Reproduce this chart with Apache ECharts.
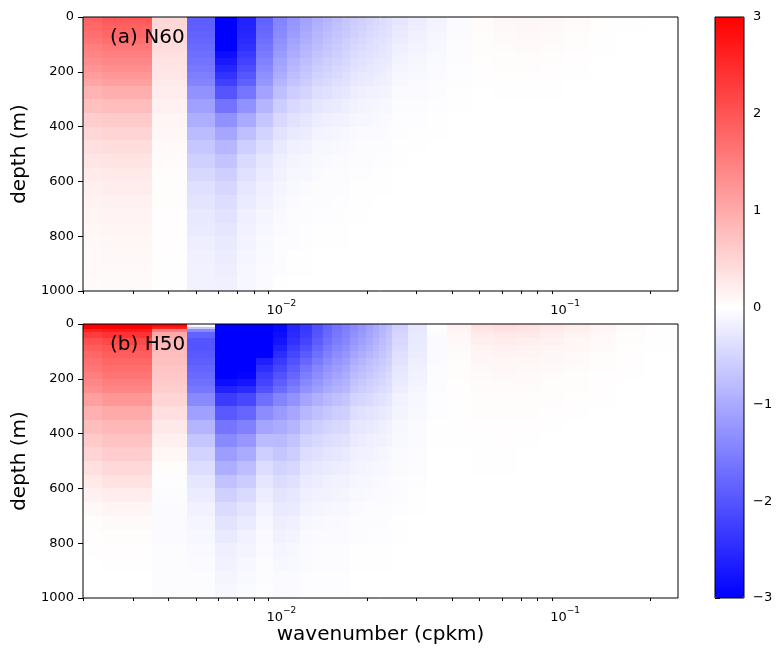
<!DOCTYPE html>
<html>
<head>
<meta charset="utf-8">
<title>N60 / H50 wavenumber-depth</title>
<script src="https://cdn.jsdelivr.net/npm/echarts@6/dist/echarts.min.js"></script>
<style>
  html, body { margin: 0; padding: 0; background: #fff; }
  #chart { width: 776px; height: 651px; }
</style>
</head>
<body>
<div id="chart"></div>
<script>
// wavenumber bins: edges in multiples of the grid spacing dk (cpkm)
const dk = 0.001165;
const binEdges = [1.717, 2, 3, 4, 5, 6, 7, 8, 9, 10, 11, 12, 13, 14, 15, 16, 17, 18, 19, 20, 21,
  24, 28, 33, 40, 48, 58, 70, 85, 105, 130, 165, 215];
// depth bins (m)
const depthEdges = [0, 10, 20, 30, 50, 75, 100, 125, 150, 175, 200, 225, 250,
  300, 350, 400, 450, 500, 550, 600, 650, 700, 750, 800, 850, 900, 950, 1000];

const xMajorTicks = [0.01, 0.1];
const xMinorTicks = [0.002, 0.003, 0.004, 0.005, 0.006, 0.007, 0.008, 0.009,
  0.02, 0.03, 0.04, 0.05, 0.06, 0.07, 0.08, 0.09, 0.2];

// one array per wavenumber bin, values from the surface down (missing = 0)
const n60 = [
  [1.85,1.85,1.8,1.76,1.7,1.62,1.52,1.43,1.35,1.26,1.16,1.06,0.9,0.74,0.59,0.47,0.38,0.3,0.24,0.19,0.15,0.12,0.1,0.08,0.07,0.06,0.05],
  [1.95,1.95,1.9,1.85,1.8,1.7,1.6,1.5,1.42,1.33,1.22,1.12,0.95,0.78,0.62,0.5,0.4,0.32,0.26,0.21,0.17,0.14,0.12,0.1,0.08,0.07,0.06],
  [0.48,0.48,0.47,0.46,0.44,0.42,0.4,0.37,0.34,0.31,0.28,0.25,0.21,0.16,0.12,0.09,0.07,0.05,0.04,0.03,0.03,0.02,0.02,0.02,0.01,0.01,0.01],
  [-1.9,-1.9,-1.9,-1.88,-1.85,-1.8,-1.75,-1.7,-1.65,-1.6,-1.52,-1.45,-1.3,-1.12,-0.95,-0.8,-0.66,-0.55,-0.46,-0.38,-0.32,-0.27,-0.23,-0.2,-0.18,-0.16,-0.15],
  [-3.2,-3.2,-3.2,-3.2,-3.1,-3.05,-3,-2.85,-2.7,-2.55,-2.4,-2.25,-2,-1.65,-1.3,-1.05,-0.85,-0.7,-0.58,-0.48,-0.4,-0.34,-0.29,-0.25,-0.22,-0.2,-0.18],
  [-2.6,-2.6,-2.6,-2.58,-2.55,-2.5,-2.42,-2.33,-2.22,-2.1,-1.98,-1.86,-1.62,-1.3,-1,-0.75,-0.56,-0.44,-0.35,-0.28,-0.23,-0.19,-0.16,-0.14,-0.12,-0.1,-0.09],
  [-1.85,-1.85,-1.83,-1.8,-1.76,-1.7,-1.63,-1.56,-1.48,-1.4,-1.32,-1.24,-1.08,-0.88,-0.68,-0.52,-0.4,-0.3,-0.24,-0.19,-0.15,-0.12,-0.1,-0.08,-0.07,-0.06,-0.05],
  [-1.45,-1.45,-1.44,-1.41,-1.36,-1.31,-1.25,-1.17,-1.1,-1.03,-0.96,-0.88,-0.75,-0.59,-0.45,-0.33,-0.25,-0.19,-0.15,-0.12,-0.09,-0.07,-0.06,-0.04,-0.03,-0.03,-0.01],
  [-1.25,-1.25,-1.24,-1.21,-1.16,-1.1,-1.04,-0.98,-0.9,-0.84,-0.76,-0.7,-0.59,-0.45,-0.34,-0.25,-0.18,-0.13,-0.1,-0.08,-0.05,-0.04,-0.03,-0.03,-0.01,-0.01],
  [-1.08,-1.08,-1.07,-1.05,-1,-0.95,-0.9,-0.84,-0.78,-0.72,-0.66,-0.6,-0.51,-0.39,-0.29,-0.22,-0.15,-0.11,-0.09,-0.06,-0.04,-0.03,-0.02,-0.02,-0.01,-0.01],
  [-0.95,-0.95,-0.93,-0.91,-0.86,-0.82,-0.76,-0.7,-0.65,-0.59,-0.53,-0.48,-0.39,-0.29,-0.21,-0.14,-0.1,-0.08,-0.05,-0.04,-0.03,-0.02,-0.01,-0.01],
  [-0.85,-0.85,-0.83,-0.82,-0.77,-0.73,-0.68,-0.63,-0.58,-0.53,-0.48,-0.43,-0.35,-0.26,-0.19,-0.13,-0.09,-0.07,-0.04,-0.03,-0.03,-0.02,-0.01,-0.01],
  [-0.76,-0.76,-0.74,-0.73,-0.69,-0.65,-0.61,-0.56,-0.52,-0.47,-0.43,-0.38,-0.31,-0.23,-0.17,-0.11,-0.08,-0.06,-0.04,-0.03,-0.02,-0.02,-0.01,-0.01],
  [-0.68,-0.68,-0.67,-0.65,-0.62,-0.58,-0.54,-0.5,-0.46,-0.42,-0.38,-0.34,-0.28,-0.2,-0.15,-0.1,-0.07,-0.05,-0.03,-0.03,-0.02,-0.01,-0.01,-0.01],
  [-0.62,-0.61,-0.6,-0.58,-0.55,-0.51,-0.47,-0.42,-0.38,-0.34,-0.3,-0.27,-0.21,-0.15,-0.11,-0.07,-0.05,-0.03,-0.02,-0.01,-0.01,-0.01],
  [-0.56,-0.55,-0.54,-0.53,-0.49,-0.46,-0.42,-0.38,-0.34,-0.31,-0.27,-0.24,-0.19,-0.13,-0.1,-0.06,-0.04,-0.03,-0.02,-0.01,-0.01,-0.01],
  [-0.5,-0.5,-0.49,-0.47,-0.44,-0.41,-0.38,-0.34,-0.31,-0.28,-0.25,-0.22,-0.17,-0.12,-0.09,-0.06,-0.04,-0.03,-0.02,-0.01,-0.01],
  [-0.45,-0.45,-0.44,-0.42,-0.4,-0.37,-0.34,-0.31,-0.27,-0.25,-0.22,-0.19,-0.15,-0.11,-0.08,-0.05,-0.04,-0.02,-0.01,-0.01],
  [-0.41,-0.41,-0.4,-0.39,-0.36,-0.34,-0.31,-0.28,-0.25,-0.23,-0.2,-0.18,-0.14,-0.1,-0.07,-0.05,-0.03,-0.02,-0.01,-0.01],
  [-0.37,-0.37,-0.36,-0.35,-0.33,-0.3,-0.28,-0.25,-0.23,-0.2,-0.18,-0.16,-0.13,-0.09,-0.06,-0.04,-0.03,-0.02,-0.01,-0.01],
  [-0.3,-0.29,-0.29,-0.27,-0.25,-0.22,-0.19,-0.17,-0.14,-0.12,-0.1,-0.09,-0.06,-0.04,-0.02,-0.02,-0.01,-0.01],
  [-0.22,-0.22,-0.21,-0.2,-0.18,-0.16,-0.14,-0.12,-0.11,-0.09,-0.08,-0.06,-0.05,-0.03,-0.02,-0.01,-0.01],
  [-0.14,-0.14,-0.13,-0.13,-0.11,-0.1,-0.09,-0.08,-0.07,-0.06,-0.05,-0.04,-0.03,-0.02,-0.01,-0.01],
  [-0.06,-0.06,-0.06,-0.05,-0.05,-0.04,-0.04,-0.03,-0.03,-0.02,-0.02,-0.02,-0.01,-0.01],
  [0.05,0.05,0.05,0.05,0.04,0.04,0.03,0.03,0.02,0.02,0.01,0.01],
  [0.09,0.09,0.08,0.08,0.07,0.06,0.05,0.04,0.03,0.03,0.02,0.02,0.01],
  [0.1,0.1,0.09,0.09,0.08,0.07,0.06,0.05,0.04,0.03,0.02,0.02,0.01],
  [0.09,0.09,0.08,0.08,0.07,0.06,0.05,0.04,0.03,0.02,0.02,0.01,0.01],
  [0.07,0.06,0.06,0.05,0.04,0.04,0.03,0.02,0.02,0.01,0.01],
  [0.03,0.03,0.03,0.02,0.02,0.01,0.01,0.01],
  [0.01,0.01,0.01,0.01],
  []
];

const h50 = [
  [3.2,3,2.6,2.3,2.05,1.9,1.8,1.7,1.62,1.52,1.42,1.32,1.12,0.92,0.76,0.62,0.5,0.37,0.26,0.16,0.08,0.04,0.02,0.01],
  [3.3,3.1,2.7,2.4,2.15,2,1.9,1.8,1.72,1.62,1.52,1.42,1.22,1,0.84,0.71,0.59,0.45,0.33,0.21,0.12,0.06,0.03,0.02,0.01],
  [2.9,2.6,1.5,1,0.85,0.8,0.77,0.74,0.7,0.66,0.62,0.58,0.5,0.38,0.27,0.18,0.1,0.03,-0.02,-0.04,-0.05,-0.05,-0.05,-0.04,-0.04,-0.03,-0.03],
  [-0.05,-0.7,-1.4,-1.85,-2,-2,-1.95,-1.9,-1.82,-1.75,-1.68,-1.6,-1.38,-1.12,-0.88,-0.68,-0.52,-0.4,-0.3,-0.22,-0.16,-0.12,-0.09,-0.07,-0.05,-0.04,-0.03],
  [-3.3,-3.3,-3.4,-3.5,-3.5,-3.5,-3.4,-3.3,-3.2,-3.1,-2.85,-2.6,-2.3,-1.95,-1.62,-1.38,-1.15,-0.95,-0.72,-0.55,-0.42,-0.33,-0.25,-0.19,-0.15,-0.12,-0.1],
  [-3.3,-3.3,-3.4,-3.4,-3.4,-3.35,-3.3,-3.2,-3.1,-2.95,-2.75,-2.5,-2.15,-1.8,-1.48,-1.22,-1,-0.78,-0.6,-0.44,-0.32,-0.23,-0.17,-0.13,-0.1,-0.08,-0.06],
  [-3.2,-3.2,-3.2,-3.2,-3.15,-3.1,-3.02,-2.65,-2.45,-2.3,-2.2,-2.05,-1.7,-1.35,-1.06,-0.8,-0.56,-0.4,-0.3,-0.21,-0.14,-0.1,-0.07,-0.05,-0.04,-0.03,-0.02],
  [-2.9,-2.9,-2.9,-2.84,-2.76,-2.61,-2.47,-2.32,-2.18,-2.03,-1.89,-1.74,-1.45,-1.19,-0.99,-0.81,-0.67,-0.52,-0.41,-0.32,-0.26,-0.2,-0.15,-0.12,-0.09,-0.06,-0.06],
  [-2.55,-2.55,-2.55,-2.5,-2.42,-2.3,-2.17,-2.04,-1.91,-1.79,-1.66,-1.53,-1.28,-1.05,-0.87,-0.71,-0.59,-0.46,-0.36,-0.28,-0.23,-0.18,-0.13,-0.1,-0.08,-0.05,-0.05],
  [-2.35,-2.35,-2.33,-2.28,-2.19,-2.07,-1.93,-1.79,-1.65,-1.53,-1.41,-1.29,-1.06,-0.85,-0.66,-0.52,-0.4,-0.31,-0.24,-0.19,-0.14,-0.09,-0.07,-0.05,-0.05,-0.02,-0.02],
  [-2.06,-2.06,-2.04,-2,-1.92,-1.81,-1.69,-1.57,-1.44,-1.34,-1.24,-1.13,-0.93,-0.74,-0.58,-0.45,-0.35,-0.27,-0.21,-0.16,-0.12,-0.08,-0.06,-0.04,-0.04,-0.02,-0.02],
  [-1.82,-1.82,-1.8,-1.77,-1.69,-1.6,-1.49,-1.38,-1.27,-1.18,-1.09,-1,-0.82,-0.66,-0.51,-0.4,-0.31,-0.24,-0.18,-0.15,-0.11,-0.07,-0.05,-0.04,-0.04,-0.02,-0.02],
  [-1.65,-1.65,-1.63,-1.6,-1.53,-1.45,-1.35,-1.25,-1.16,-1.07,-0.99,-0.91,-0.74,-0.59,-0.46,-0.36,-0.28,-0.21,-0.17,-0.13,-0.1,-0.07,-0.05,-0.03,-0.03,-0.02,-0.02],
  [-1.52,-1.52,-1.5,-1.47,-1.41,-1.34,-1.25,-1.16,-1.06,-0.99,-0.91,-0.84,-0.68,-0.55,-0.43,-0.33,-0.26,-0.2,-0.15,-0.12,-0.09,-0.06,-0.05,-0.03,-0.03,-0.02,-0.02],
  [-1.38,-1.38,-1.35,-1.31,-1.24,-1.16,-1.06,-0.97,-0.88,-0.8,-0.72,-0.65,-0.52,-0.4,-0.3,-0.23,-0.18,-0.14,-0.11,-0.08,-0.06,-0.04,-0.03,-0.01,-0.01],
  [-1.25,-1.25,-1.23,-1.19,-1.13,-1.05,-0.96,-0.88,-0.8,-0.73,-0.65,-0.59,-0.48,-0.36,-0.28,-0.21,-0.16,-0.13,-0.1,-0.08,-0.05,-0.04,-0.03,-0.01,-0.01],
  [-1.12,-1.12,-1.1,-1.06,-1.01,-0.94,-0.86,-0.78,-0.72,-0.65,-0.58,-0.53,-0.43,-0.32,-0.25,-0.19,-0.15,-0.11,-0.09,-0.07,-0.04,-0.03,-0.02,-0.01,-0.01],
  [-1,-1,-0.98,-0.95,-0.9,-0.84,-0.77,-0.7,-0.64,-0.58,-0.52,-0.47,-0.38,-0.29,-0.22,-0.17,-0.13,-0.1,-0.08,-0.06,-0.04,-0.03,-0.02,-0.01,-0.01],
  [-0.88,-0.88,-0.86,-0.84,-0.79,-0.74,-0.68,-0.62,-0.56,-0.51,-0.46,-0.41,-0.33,-0.26,-0.19,-0.15,-0.11,-0.09,-0.07,-0.05,-0.04,-0.03,-0.02,-0.01,-0.01],
  [-0.76,-0.76,-0.74,-0.72,-0.68,-0.64,-0.59,-0.53,-0.49,-0.44,-0.4,-0.36,-0.29,-0.22,-0.17,-0.13,-0.1,-0.08,-0.06,-0.05,-0.03,-0.02,-0.02,-0.01,-0.01],
  [-0.55,-0.54,-0.52,-0.5,-0.46,-0.42,-0.38,-0.34,-0.3,-0.27,-0.24,-0.21,-0.17,-0.13,-0.1,-0.08,-0.06,-0.05,-0.04,-0.03,-0.02,-0.01,-0.01],
  [-0.28,-0.28,-0.28,-0.27,-0.26,-0.24,-0.22,-0.2,-0.18,-0.16,-0.14,-0.12,-0.1,-0.08,-0.06,-0.05,-0.04,-0.03,-0.02,-0.01,-0.01],
  [0.02,0,-0.02,-0.04,-0.05,-0.05,-0.05,-0.05,-0.04,-0.04,-0.03,-0.03,-0.02,-0.02,-0.01,-0.01],
  [0.15,0.14,0.12,0.1,0.08,0.06,0.05,0.04,0.03,0.03,0.02,0.02,0.02,0.01,0.01,0.01],
  [0.35,0.32,0.28,0.23,0.18,0.14,0.12,0.09,0.08,0.06,0.05,0.05,0.04,0.03,0.02,0.01,0.01,0.01],
  [0.42,0.38,0.34,0.27,0.21,0.17,0.14,0.11,0.09,0.08,0.06,0.05,0.04,0.03,0.02,0.02,0.01,0.01],
  [0.38,0.34,0.3,0.25,0.19,0.15,0.13,0.1,0.08,0.07,0.06,0.05,0.04,0.03,0.02,0.01],
  [0.3,0.27,0.24,0.2,0.15,0.12,0.1,0.08,0.07,0.05,0.04,0.04,0.03,0.02,0.01],
  [0.22,0.2,0.18,0.14,0.11,0.09,0.07,0.06,0.05,0.04,0.03,0.03,0.02,0.01],
  [0.13,0.12,0.1,0.08,0.07,0.05,0.04,0.04,0.03,0.02,0.02,0.02,0.01],
  [0.06,0.05,0.05,0.04,0.03,0.02,0.02,0.02,0.01,0.01],
  [0.02,0.02,0.02,0.01,0.01,0.01]
];

const FONT = 'DejaVu Sans';
const chart = echarts.init(document.getElementById('chart'));

// cell rows: [k0, k1, depth0, depth1, value]
function cells(cols) {
  const out = [];
  cols.forEach((col, i) => {
    col.forEach((v, j) => {
      out.push([binEdges[i] * dk, binEdges[i + 1] * dk, depthEdges[j], depthEdges[j + 1], v]);
    });
  });
  return out;
}

function renderCell(params, api) {
  const p0 = api.coord([api.value(0), api.value(2)]);
  const p1 = api.coord([api.value(1), api.value(3)]);
  const x0 = Math.round(Math.min(p0[0], p1[0])), x1 = Math.round(Math.max(p0[0], p1[0]));
  const y0 = Math.round(Math.min(p0[1], p1[1])), y1 = Math.round(Math.max(p0[1], p1[1]));
  return {
    type: 'rect',
    shape: { x: x0, y: y0, width: x1 - x0, height: y1 - y0 },
    style: { fill: api.visual('color') }
  };
}

const minus = s => String(s).replace('-', '\u2212');

function panelAxes(gi) {
  const base = {
    type: 'log', logBase: 10, min: 0.002, max: 0.25, gridIndex: gi,
    position: 'bottom', axisLine: { show: false }, splitLine: { show: false }
  };
  return [
    Object.assign({}, base, {
      name: gi === 1 ? 'wavenumber (cpkm)' : '',
      nameLocation: 'middle', nameGap: 24,
      nameTextStyle: { fontFamily: FONT, fontSize: 20, color: '#000' },
      axisTick: { customValues: xMajorTicks, length: 5, lineStyle: { color: '#000', width: 1 } },
      axisLabel: {
        customValues: xMajorTicks, margin: 8,
        formatter: v => '{b|10}{s|' + minus(Math.round(Math.log10(v))) + '}',
        rich: {
          b: { fontFamily: FONT, fontSize: 13, color: '#000', lineHeight: 18, verticalAlign: 'bottom' },
          s: { fontFamily: FONT, fontSize: 9, color: '#000', lineHeight: 18, verticalAlign: 'top' }
        }
      }
    }),
    Object.assign({}, base, {
      axisTick: { customValues: xMinorTicks, length: 3, lineStyle: { color: '#000', width: 1 } },
      axisLabel: { show: false }
    })
  ];
}

function depthAxis(gi) {
  return {
    type: 'value', gridIndex: gi, inverse: true, min: 0, max: 1000, interval: 200,
    name: 'depth (m)', nameLocation: 'middle', nameGap: 37,
    nameTextStyle: { fontFamily: FONT, fontSize: 20, color: '#000' },
    axisLine: { show: false }, splitLine: { show: false },
    axisTick: { show: true, length: 5, lineStyle: { color: '#000', width: 1 } },
    axisLabel: { fontFamily: FONT, fontSize: 13, color: '#000', margin: 9, formatter: v => String(v) }
  };
}

const frame = { show: true, borderColor: '#000', borderWidth: 1, backgroundColor: 'transparent', z: 10 };

const option = {
  animation: false,
  backgroundColor: '#fff',
  grid: [
    Object.assign({ left: 83, top: 17, width: 595, height: 274 }, frame),
    Object.assign({ left: 83, top: 324, width: 595, height: 274 }, frame),
    Object.assign({ left: 715, top: 17, width: 29, height: 581 }, frame)
  ],
  xAxis: [
    ...panelAxes(0),
    ...panelAxes(1),
    { type: 'value', gridIndex: 2, show: false, min: 0, max: 1 }
  ],
  yAxis: [
    depthAxis(0),
    depthAxis(1),
    {
      type: 'value', gridIndex: 2, position: 'right', min: -3, max: 3, interval: 1,
      axisLine: { show: false }, splitLine: { show: false },
      axisTick: { show: true, length: 5, lineStyle: { color: '#000', width: 1 } },
      axisLabel: { fontFamily: FONT, fontSize: 13, color: '#000', margin: 9, formatter: v => minus(v) }
    }
  ],
  visualMap: {
    type: 'continuous', min: -3, max: 3, dimension: 4, seriesIndex: [0, 1],
    calculable: false, hoverLink: false, showLabel: false, text: null,
    itemWidth: 29, itemHeight: 581, left: 715, top: 17, padding: 0,
    inRange: { color: ['#0000ff', '#ffffff', '#ff0000'] }
  },
  series: [
    {
      type: 'custom', name: 'N60', xAxisIndex: 0, yAxisIndex: 0, clip: true, silent: true,
      encode: { x: [0, 1], y: [2, 3] }, renderItem: renderCell, data: cells(n60)
    },
    {
      type: 'custom', name: 'H50', xAxisIndex: 2, yAxisIndex: 1, clip: true, silent: true,
      encode: { x: [0, 1], y: [2, 3] }, renderItem: renderCell, data: cells(h50)
    }
  ],
  graphic: [
    { type: 'text', left: 110, top: 28, z: 20, style: { text: '(a) N60', font: '20px "DejaVu Sans"', fill: '#000' } },
    { type: 'text', left: 110, top: 335, z: 20, style: { text: '(b) H50', font: '20px "DejaVu Sans"', fill: '#000' } }
  ]
};

chart.setOption(option);
</script>
</body>
</html>
